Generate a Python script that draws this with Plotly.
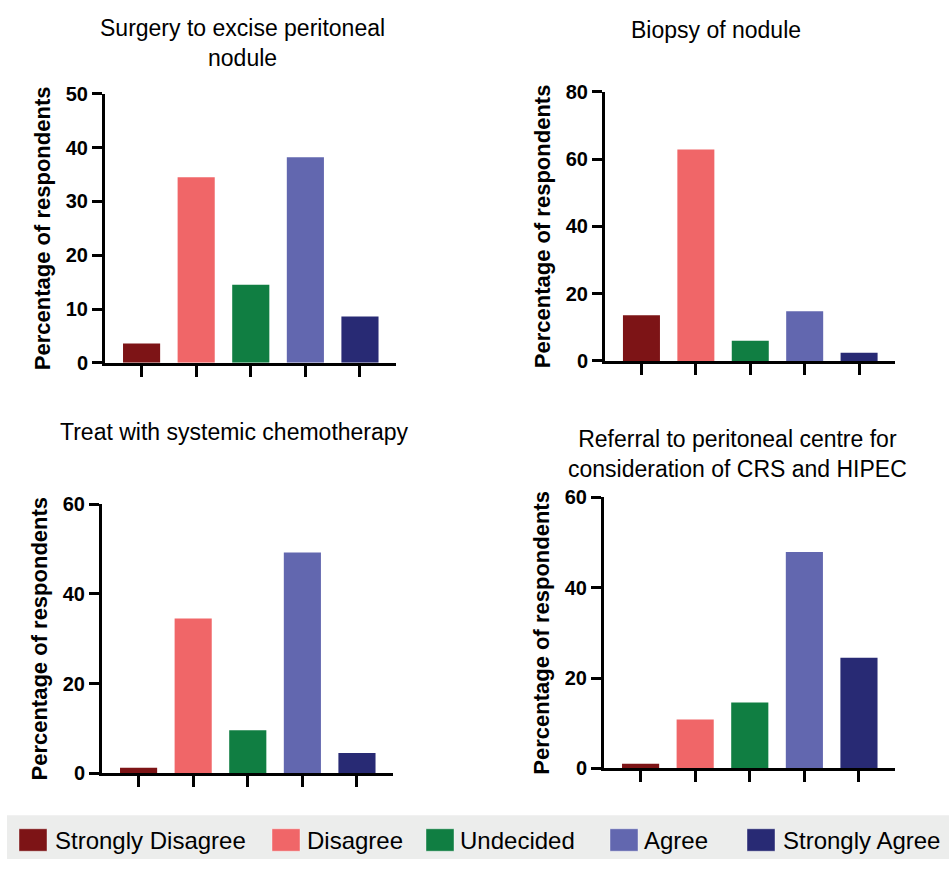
import plotly.graph_objects as go

# ---------------- data ----------------
categories = ["Strongly Disagree", "Disagree", "Undecided", "Agree", "Strongly Agree"]
surgery = [3.6, 34.5, 14.5, 38.2, 8.6]
biopsy = [13.6, 62.9, 6.0, 14.8, 2.4]
chemo = [1.2, 34.5, 9.6, 49.2, 4.5]
referral = [1.0, 10.8, 14.6, 47.9, 24.5]
panel_titles = [
    "Surgery to excise peritoneal<br>nodule",
    "Biopsy of nodule",
    "Treat with systemic chemotherapy",
    "Referral to peritoneal centre for<br>consideration of CRS and HIPEC",
]
y_max = [50, 80, 60, 60]
y_dtick = [10, 20, 20, 20]
y_title = "Percentage of respondents"

# ---------------- style ----------------
colors = ["#7D1416", "#F06668", "#107E42", "#6267AF", "#282A74"]
W, H = 949, 870
FONT = "Liberation Sans, Arial, sans-serif"

# panel geometry in pixels: x range, y range (top, bottom), title centre
panels = [
    dict(x=(105, 396), y=(85, 361), tx=242, ty=33),
    dict(x=(605, 895), y=(83, 359), tx=716, ty=19),
    dict(x=(102, 393), y=(506, 782), tx=234, ty=432),
    dict(x=(604, 895), y=(499, 777), tx=737, ty=454),
]
series = [surgery, biopsy, chemo, referral]

fig = go.Figure()
annotations = []
shapes = []

for i, (vals, p) in enumerate(zip(series, panels)):
    n = "" if i == 0 else str(i + 1)
    fig.add_trace(go.Bar(
        x=categories, y=vals,
        marker=dict(color=colors, line=dict(width=0)),
        width=0.68,
        xaxis="x" + n, yaxis="y" + n,
        showlegend=False,
        hovertemplate="%{x}: %{y}%<extra></extra>",
    ))
    xd = [p["x"][0] / W, p["x"][1] / W]
    yd = [1 - p["y"][1] / H, 1 - p["y"][0] / H]
    fig.layout["xaxis" + n] = dict(
        domain=xd, anchor="y" + n, range=[-0.67, 4.66],
        showline=True, linecolor="black", linewidth=3,
        ticks="outside", ticklen=11, tickwidth=3, tickcolor="black",
        showticklabels=False, showgrid=False, zeroline=False,
        fixedrange=True,
    )
    fig.layout["yaxis" + n] = dict(
        domain=yd, anchor="x" + n, range=[0, y_max[i]], dtick=y_dtick[i],
        showline=True, linecolor="black", linewidth=3,
        ticks="outside", ticklen=10, tickwidth=3, tickcolor="black",
        tickfont=dict(family=FONT, size=20, color="black", weight="bold"),
        title=dict(text=y_title, standoff=10,
                   font=dict(family=FONT, size=22, color="black", weight="bold")),
        showgrid=False, zeroline=False, fixedrange=True,
    )
    annotations.append(dict(
        text=panel_titles[i], x=p["tx"] / W, y=1 - p["ty"] / H,
        xref="paper", yref="paper",
        xanchor="center", yanchor="middle", align="center", showarrow=False,
        font=dict(family=FONT, size=23, color="black"),
    ))

# ---------------- legend (drawn manually) ----------------
shapes.append(dict(type="rect", xref="paper", yref="paper",
                   x0=7 / W, x1=1, y0=0, y1=1 - 825 / H,
                   fillcolor="#ECEDEC", line=dict(width=0), layer="below"))
sq_left = [19, 272, 426, 610, 747]
txt_left = [53, 305, 458, 642, 781]
for c, col, sx, tx in zip(categories, colors, sq_left, txt_left):
    shapes.append(dict(type="rect", xref="paper", yref="paper",
                       x0=sx / W, x1=(sx + 28) / W,
                       y0=1 - 862 / H, y1=1 - 839 / H,
                       fillcolor=col, line=dict(width=1, color="rgba(255,255,255,0.4)")))
    annotations.append(dict(
        text=c, x=tx / W, y=1 - 851 / H, xref="paper", yref="paper",
        xanchor="left", yanchor="middle", showarrow=False,
        font=dict(family=FONT, size=24, color="black"),
    ))

fig.update_layout(
    width=W, height=H,
    margin=dict(l=0, r=0, t=0, b=0),
    paper_bgcolor="white", plot_bgcolor="white",
    annotations=annotations, shapes=shapes,
    showlegend=False,
)

fig.write_html("out.html", config={"displayModeBar": False},
               post_script="document.body.style.margin='0px';document.body.style.overflow='hidden';")
